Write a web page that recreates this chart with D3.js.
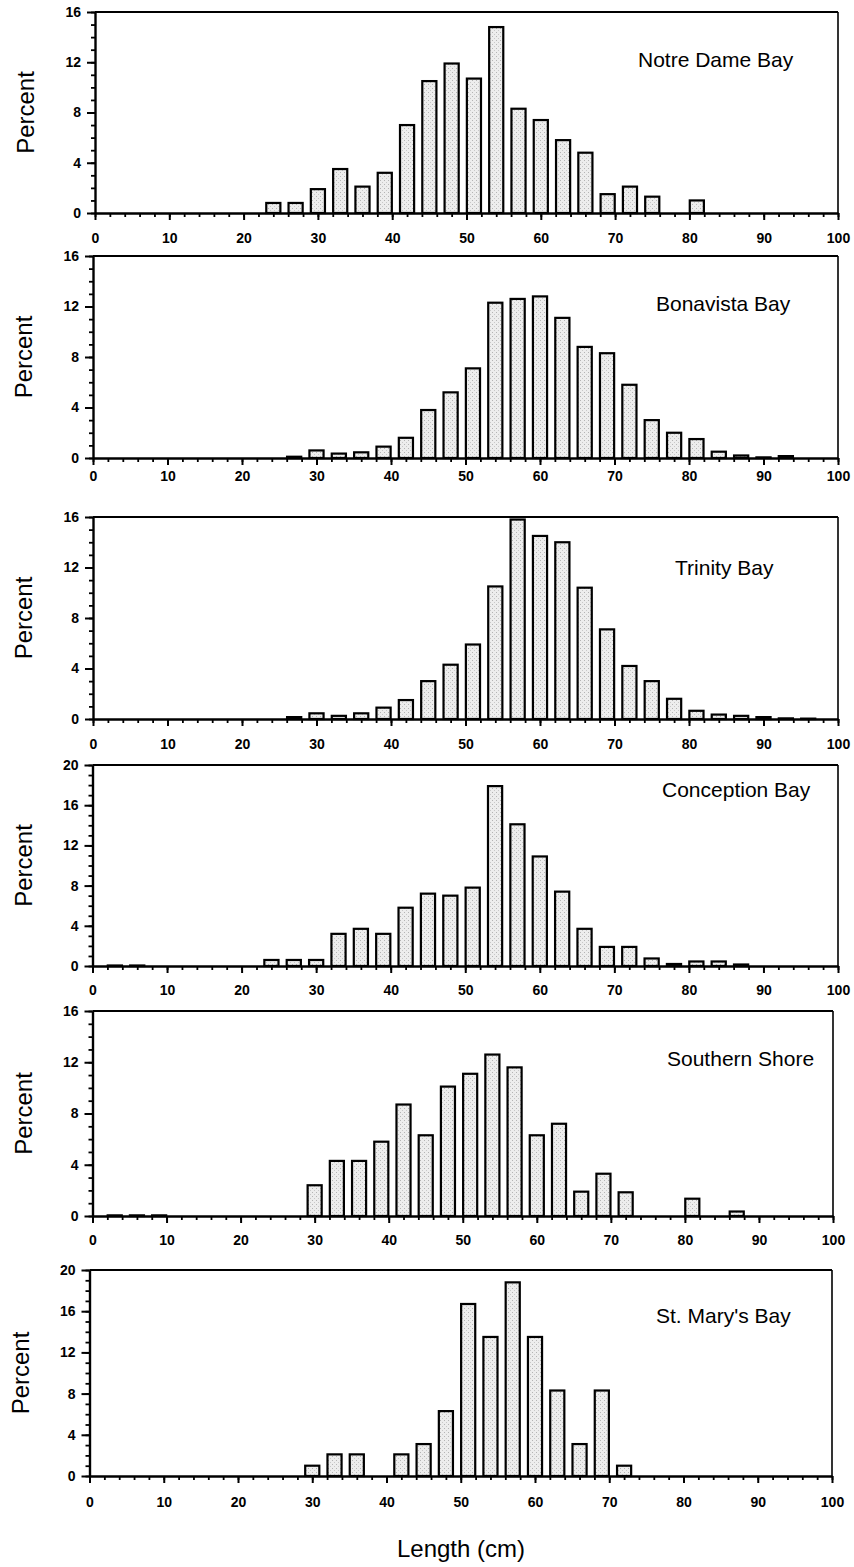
<!DOCTYPE html>
<html>
<head>
<meta charset="utf-8">
<script src="https://cdn.jsdelivr.net/npm/d3@7"></script>
<style>
  html, body { margin: 0; padding: 0; background: #fff; }
  svg { display: block; }
  text { font-family: "Liberation Sans", Arial, Helvetica, sans-serif; fill: #000; }
</style>
</head>
<body>
<svg id="chart" width="854" height="1567"></svg>
<script>
// ---------------- DATA ----------------
const lengthBins = [3,6,9,12,15,18,21,24,27,30,33,36,39,42,45,48,51,54,57,60,63,66,69,72,75,78,81,84,87,90,93,96];

const regionNames = ["Notre Dame Bay", "Bonavista Bay", "Trinity Bay", "Conception Bay", "Southern Shore", "St. Mary's Bay"];

const notreDameBay   = [0,0,0,0,0,0,0, 0.8,0.8,1.9,3.5,2.1,3.2,7.0,10.5,11.9,10.7,14.8,8.3,7.4,5.8,4.8,1.5,2.1,1.3,0,1.0,0,0,0,0,0];
const bonavistaBay   = [0,0,0,0,0,0,0,0, 0.1,0.6,0.35,0.45,0.9,1.6,3.8,5.2,7.1,12.3,12.6,12.8,11.1,8.8,8.3,5.8,3.0,2.0,1.5,0.5,0.2,0.05,0.15,0];
const trinityBay     = [0,0,0,0,0,0,0,0, 0.15,0.45,0.25,0.45,0.9,1.5,3.0,4.3,5.9,10.5,15.8,14.5,14.0,10.4,7.1,4.2,3.0,1.6,0.65,0.35,0.25,0.15,0.05,0.03];
const conceptionBay  = [0.05,0.05,0,0,0,0,0, 0.6,0.6,0.6,3.2,3.7,3.2,5.8,7.2,7.0,7.8,17.9,14.1,10.9,7.4,3.7,1.9,1.9,0.75,0.2,0.45,0.45,0.15,0,0,0];
const southernShore  = [0.05,0.05,0.05,0,0,0,0,0,0, 2.4,4.3,4.3,5.8,8.7,6.3,10.1,11.1,12.6,11.6,6.3,7.2,1.9,3.3,1.85,0,0,1.35,0,0.35,0,0,0];
const stMarysBay     = [0,0,0,0,0,0,0,0,0, 1.0,2.1,2.1,0,2.1,3.1,6.3,16.7,13.5,18.8,13.5,8.3,3.1,8.3,1.0,0,0,0,0,0,0,0,0];

const regionValues = [notreDameBay, bonavistaBay, trinityBay, conceptionBay, southernShore, stMarysBay];
const yMaxes = [16, 16, 16, 20, 16, 20];

const xMajorTicks = [0,10,20,30,40,50,60,70,80,90,100];
const yTickStep = 4;

// ---------------- LAYOUT ----------------
const layout = [
  {top: 12,   bottom: 213,  left: 95,   right: 838, labOff: 13, tx: 638, ty: 67},
  {top: 256,  bottom: 458,  left: 93,   right: 838, labOff: 6,  tx: 656, ty: 311},
  {top: 517,  bottom: 719,  left: 93,   right: 838, labOff: 13, tx: 675, ty: 575},
  {top: 765,  bottom: 966,  left: 92.5, right: 838, labOff: 12, tx: 662, ty: 797},
  {top: 1011, bottom: 1216, left: 92.5, right: 833, labOff: 12, tx: 667, ty: 1066},
  {top: 1270, bottom: 1476, left: 89.5, right: 832, labOff: 14, tx: 656, ty: 1323}
];

const svg = d3.select("#chart");
svg.append("rect").attr("width", 854).attr("height", 1567).attr("fill", "#fff");

// stipple pattern for bars
const defs = svg.append("defs");
const pat = defs.append("pattern").attr("id", "stipple").attr("patternUnits", "userSpaceOnUse")
  .attr("width", 4).attr("height", 4);
pat.append("rect").attr("width", 4).attr("height", 4).attr("fill", "#ededed");
pat.append("rect").attr("x", 0).attr("y", 0).attr("width", 1).attr("height", 1).attr("fill", "#b4b4b4");
pat.append("rect").attr("x", 2).attr("y", 2).attr("width", 1).attr("height", 1).attr("fill", "#c8c8c8");

const halfBar = 0.95;

regionNames.forEach((name, i) => {
  const L = layout[i];
  const vals = regionValues[i];
  const x = d3.scaleLinear().domain([0, 100]).range([L.left, L.right]);
  const y = d3.scaleLinear().domain([0, yMaxes[i]]).range([L.bottom, L.top]);
  const g = svg.append("g");

  // frame top & right
  g.append("line").attr("x1", L.left).attr("x2", L.right).attr("y1", y(yMaxes[i])).attr("y2", y(yMaxes[i]))
    .attr("stroke", "#000").attr("stroke-width", 2);
  g.append("line").attr("x1", L.right).attr("x2", L.right).attr("y1", y(yMaxes[i])).attr("y2", L.bottom)
    .attr("stroke", "#000").attr("stroke-width", 1.6);

  // bars
  const data = lengthBins.map((b, k) => ({bin: b, v: vals[k]})).filter(d => d.v > 0);
  g.selectAll("rect.bar").data(data).enter().append("rect")
    .attr("class", "bar")
    .attr("x", d => x(d.bin - halfBar))
    .attr("width", d => x(d.bin + halfBar) - x(d.bin - halfBar))
    .attr("y", d => y(d.v))
    .attr("height", d => Math.max(0.01, y(0) - y(d.v)))
    .attr("fill", "url(#stipple)")
    .attr("stroke", "#000")
    .attr("stroke-width", 2.2);

  // x axis: minor
  const xMinor = d3.axisBottom(x).tickValues(d3.range(0, 101, 2)).tickSize(4).tickFormat("");
  g.append("g").attr("transform", `translate(0,${L.bottom})`).call(xMinor)
    .call(s => s.select(".domain").remove())
    .call(s => s.selectAll("line").attr("stroke-width", 1.8));
  // x axis: major
  const xMajor = d3.axisBottom(x).tickValues(xMajorTicks).tickSize(7).tickSizeOuter(0).tickPadding(L.labOff);
  const xa = g.append("g").attr("transform", `translate(0,${L.bottom})`).call(xMajor);
  xa.select(".domain").attr("stroke-width", 2.4);
  xa.selectAll("line").attr("stroke-width", 2);
  xa.selectAll("text").style("font-size", "14px").style("font-weight", "bold").attr("fill", "#000");

  // y axis: minor
  const yMinor = d3.axisLeft(y).tickValues(d3.range(0, yMaxes[i] + 1, 1)).tickSize(4).tickFormat("");
  g.append("g").attr("transform", `translate(${L.left},0)`).call(yMinor)
    .call(s => s.select(".domain").remove())
    .call(s => s.selectAll("line").attr("stroke-width", 1.8));
  // y axis: major
  const yMajor = d3.axisLeft(y).tickValues(d3.range(0, yMaxes[i] + 1, yTickStep)).tickSize(8).tickSizeOuter(0).tickPadding(6);
  const ya = g.append("g").attr("transform", `translate(${L.left},0)`).call(yMajor);
  ya.select(".domain").attr("stroke-width", 2.4);
  ya.selectAll("line").attr("stroke-width", 2);
  ya.selectAll("text").style("font-size", "14px").style("font-weight", "bold").attr("fill", "#000");

  // title
  g.append("text").attr("x", L.tx).attr("y", L.ty).style("font-size", "21px").text(name);

  // y label
  g.append("text")
    .attr("transform", `translate(${L.left - 61},${(L.top + L.bottom) / 2}) rotate(-90)`)
    .attr("text-anchor", "middle")
    .style("font-size", "24px")
    .text("Percent");
});

// x axis title
svg.append("text").attr("x", 461).attr("y", 1557).attr("text-anchor", "middle")
  .style("font-size", "24px").text("Length (cm)");
</script>
</body>
</html>
